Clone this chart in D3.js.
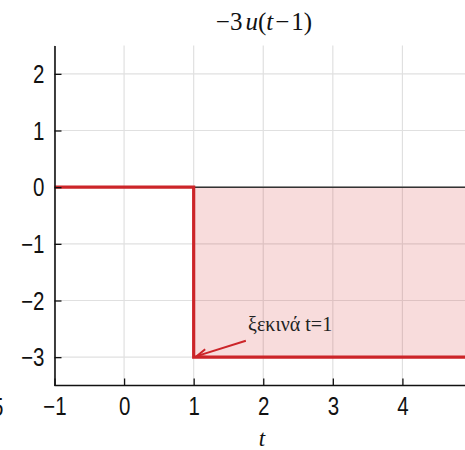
<!DOCTYPE html>
<html>
<head>
<meta charset="utf-8">
<script src="https://cdn.jsdelivr.net/npm/d3@7/dist/d3.min.js"></script>
<style>
  html, body { margin: 0; padding: 0; background: #fff; }
  svg { display: block; }
</style>
</head>
<body>
<svg id="chart" width="465" height="450"></svg>
<script>
// Step signal -3·u(t-1): zero before t = 1, then -3
const stepT = [-1, 1, 1, 5.5];
const stepY = [0, 0, -3, -3];
const fillT = [1, 5.5];
const fillTop = 0;
const fillBottom = -3;
const xTicks = [-1, 0, 1, 2, 3, 4];
const yTicks = [-3, -2, -1, 0, 1, 2];
const xDomain = [-1, 5];
const yDomain = [-3.5, 2.5];
const annotationText = "ξεκινά t=1";
const annotationAt = [1, -3];
const annotationFrom = [1.75, -2.71];

(function () {
const svg = d3.select("#chart");
const mLeft = 54.5, mTop = 45.5, mBottom = 385.5, mRight = 472;

const x = d3.scaleLinear().domain(xDomain).range([mLeft, mRight]);
const y = d3.scaleLinear().domain(yDomain).range([mBottom, mTop]);

const red = "#cc2529";
const tickFont = "'Liberation Sans', 'DejaVu Sans', sans-serif";
const squeeze = 0.82;

// grid
const grid = svg.append("g");
grid.selectAll(".gx").data(xTicks).join("line")
  .attr("x1", d => x(d)).attr("x2", d => x(d))
  .attr("y1", mTop).attr("y2", mBottom)
  .attr("stroke", "#e0e0e0").attr("stroke-width", 1.2);
grid.selectAll(".gy").data(yTicks).join("line")
  .attr("x1", mLeft).attr("x2", 465)
  .attr("y1", d => y(d)).attr("y2", d => y(d))
  .attr("stroke", "#e0e0e0").attr("stroke-width", 1.2);

// shaded region under the step
svg.append("path")
  .datum(fillT)
  .attr("d", d3.area().x(d => x(d)).y0(() => y(fillBottom)).y1(() => y(fillTop)))
  .attr("fill", "rgba(214,39,40,0.16)");

// zero reference line
svg.append("line")
  .attr("x1", mLeft).attr("x2", 465)
  .attr("y1", y(0)).attr("y2", y(0))
  .attr("stroke", "#333").attr("stroke-width", 1.5);

// step line
svg.append("path")
  .datum(d3.zip(stepT, stepY))
  .attr("d", d3.line().x(d => x(d[0])).y(d => y(d[1])))
  .attr("fill", "none")
  .attr("stroke", red)
  .attr("stroke-width", 3.2);

// axes with inward ticks
const fmt = d => d < 0 ? "\u2212" + Math.abs(d) : d;
const xAxis = d3.axisBottom(x).tickValues(xTicks).tickSizeInner(-7).tickSizeOuter(0).tickFormat(fmt);
const yAxis = d3.axisLeft(y).tickValues(yTicks).tickSizeInner(-7).tickSizeOuter(0).tickFormat(fmt);

const gx = svg.append("g").attr("transform", `translate(0,${mBottom})`).call(xAxis);
const gy = svg.append("g").attr("transform", `translate(${mLeft},0)`).call(yAxis);

[gx, gy].forEach(g => {
  g.select(".domain").attr("stroke", "#111").attr("stroke-width", 1.6);
  g.selectAll(".tick line").attr("stroke", "#111").attr("stroke-width", 1.3);
  g.selectAll(".tick text")
    .attr("font-family", tickFont)
    .attr("font-size", 25)
    .attr("fill", "#111");
});
gx.select(".domain").attr("d", `M${mLeft},0H465`);
// narrow the tick digits horizontally around their anchor
gx.selectAll(".tick text").attr("dy", "1.08em").attr("y", 3)
  .attr("transform", `scale(${squeeze},1)`);
gy.selectAll(".tick text").attr("x", -10 / squeeze).attr("dy", "0.35em")
  .attr("transform", `scale(${squeeze},1)`);

// partial label from the neighbouring panel
svg.append("text")
  .attr("transform", `scale(${squeeze},1)`)
  .attr("x", -8 / squeeze).attr("y", 416)
  .attr("font-family", tickFont).attr("font-size", 25).attr("fill", "#111")
  .text("5");

// annotation arrow
const ax0 = x(annotationFrom[0]), ay0 = y(annotationFrom[1]);
const ax1 = x(annotationAt[0]) + 3, ay1 = y(annotationAt[1]) - 1;
svg.append("line")
  .attr("x1", ax0).attr("y1", ay0).attr("x2", ax1).attr("y2", ay1)
  .attr("stroke", red).attr("stroke-width", 2);
const ang = Math.atan2(ay1 - ay0, ax1 - ax0);
const hl = 11, hw = 0.38;
svg.append("path")
  .attr("d", `M${ax1 - hl * Math.cos(ang - hw)},${ay1 - hl * Math.sin(ang - hw)}L${ax1},${ay1}L${ax1 - hl * Math.cos(ang + hw)},${ay1 - hl * Math.sin(ang + hw)}`)
  .attr("fill", "none").attr("stroke", red).attr("stroke-width", 2);

svg.append("text")
  .attr("x", 248).attr("y", 331)
  .attr("font-family", "'Liberation Serif', 'DejaVu Serif', serif")
  .attr("font-size", 20).attr("fill", "#222")
  .text(annotationText);

// title
const title = svg.append("text")
  .attr("x", 264).attr("y", 30)
  .attr("text-anchor", "middle")
  .attr("font-family", "'Liberation Serif', 'DejaVu Serif', serif")
  .attr("font-size", 25).attr("fill", "#111");
title.append("tspan").text("\u22123");
title.append("tspan").attr("font-style", "italic").attr("dx", 3).text("u");
title.append("tspan").text("(");
title.append("tspan").attr("font-style", "italic").text("t");
title.append("tspan").attr("dx", 2).text("\u2212");
title.append("tspan").attr("dx", 2).text("1)");

// x axis label
svg.append("text")
  .attr("x", 262).attr("y", 446)
  .attr("text-anchor", "middle")
  .attr("font-family", "'Liberation Serif', 'DejaVu Serif', serif")
  .attr("font-style", "italic")
  .attr("font-size", 23).attr("fill", "#111")
  .text("t");
})();
</script>
</body>
</html>
